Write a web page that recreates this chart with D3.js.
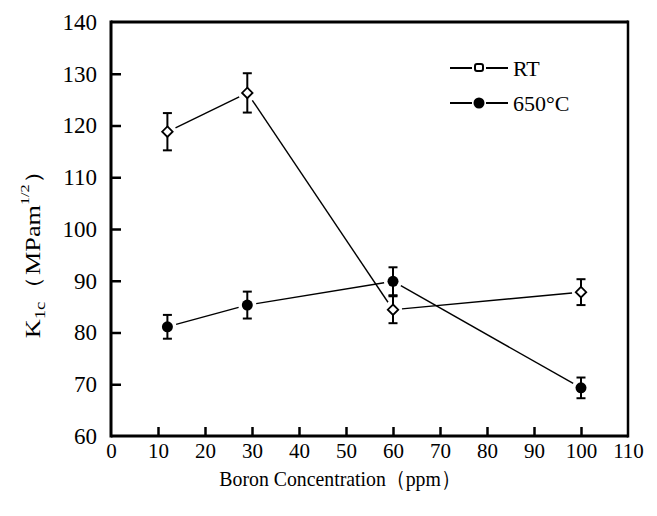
<!DOCTYPE html>
<html>
<head>
<meta charset="utf-8">
<script src="https://cdn.jsdelivr.net/npm/d3@7"></script>
<style>
  html, body { margin: 0; padding: 0; background: #fff; }
  svg { display: block; }
  svg text { font-family: "Times New Roman", "Liberation Serif", Times, "DejaVu Serif", serif; fill: #000; }
</style>
</head>
<body>
<div id="chart"></div>
<script>
// ── Data ─────────────────────────────────────────────
var boron = [12, 29, 60, 100];                 // ppm
var rtK = [118.8, 126.3, 84.4, 87.8];          // RT
var rtErr = [3.6, 3.8, 2.6, 2.5];
var hotK = [81.1, 85.3, 89.9, 69.3];           // 650°C
var hotErr = [2.3, 2.6, 2.7, 2.0];
var xTicks = [0, 10, 20, 30, 40, 50, 60, 70, 80, 90, 100, 110];
var yTicks = [60, 70, 80, 90, 100, 110, 120, 130, 140];
var seriesNames = ["RT", "650°C"];

var W = 657, H = 516;
var margin = { top: 22, right: 29, bottom: 80, left: 111 };
var iW = W - margin.left - margin.right;
var iH = H - margin.top - margin.bottom;
var serif = "'Times New Roman', 'Liberation Serif', Times, serif";

var svg = d3.select("#chart").append("svg")
  .attr("width", W).attr("height", H)
  .attr("font-family", serif);
svg.append("rect").attr("width", W).attr("height", H).attr("fill", "#fff");

var g = svg.append("g")
  .attr("transform", "translate(" + margin.left + "," + margin.top + ")");

var x = d3.scaleLinear().domain([0, 110]).range([0, iW]);
var y = d3.scaleLinear().domain([60, 140]).range([iH, 0]);

// ── Axes (ticks pointing inward) ─────────────────────
var xAxis = g.append("g")
  .attr("transform", "translate(0," + iH + ")")
  .call(d3.axisBottom(x).tickValues(xTicks).tickSize(-9).tickPadding(7))
  .attr("font-family", serif);
xAxis.selectAll("text").attr("font-size", 21);

var yAxis = g.append("g")
  .call(d3.axisLeft(y).tickValues(yTicks).tickSize(-10).tickPadding(14))
  .attr("font-family", serif);
yAxis.selectAll("text").attr("font-size", 23);

[xAxis, yAxis].forEach(function (a) {
  a.select(".domain").remove();
  a.selectAll(".tick line").attr("stroke", "#000").attr("stroke-width", 2.5);
});
// no tick marks at the frame corners
xAxis.selectAll(".tick line").filter(function (d) { return d === 0 || d === 110; }).remove();
yAxis.selectAll(".tick line").filter(function (d) { return d === 60 || d === 140; }).remove();

// frame
g.append("line").attr("x1", 0).attr("x2", 0).attr("y1", -1.5).attr("y2", iH + 1.5)
  .attr("stroke", "#000").attr("stroke-width", 3);
g.append("line").attr("x1", 0).attr("x2", iW).attr("y1", iH).attr("y2", iH)
  .attr("stroke", "#000").attr("stroke-width", 3);
g.append("line").attr("x1", 0).attr("x2", iW).attr("y1", 0).attr("y2", 0)
  .attr("stroke", "#000").attr("stroke-width", 3);
g.append("line").attr("x1", iW).attr("x2", iW).attr("y1", -1.5).attr("y2", iH + 1.5)
  .attr("stroke", "#000").attr("stroke-width", 2.5);

// ── Axis titles ──────────────────────────────────────
svg.append("text")
  .attr("transform", "translate(340,486) scale(0.9,1)")
  .attr("text-anchor", "middle")
  .attr("font-size", 22)
  .text("Boron Concentration（ppm）");

var yt = svg.append("text")
  .attr("transform", "translate(40,248) rotate(-90) scale(1.25,1)")
  .attr("text-anchor", "middle")
  .attr("font-size", 21);
yt.append("tspan").text("K");
yt.append("tspan").attr("dy", 5).attr("font-size", 15).text("1c");
yt.append("tspan").attr("dy", -5).text("（MPam");
yt.append("tspan").attr("dy", -11).attr("font-size", 13).text("1/2");
yt.append("tspan").attr("dy", 11).text("）");

// ── Series ───────────────────────────────────────────
function rows(vals, errs) {
  return boron.map(function (b, i) { return { b: b, v: vals[i], e: errs[i] }; });
}
var series = [
  { name: seriesNames[0], rows: rows(rtK, rtErr), open: true },
  { name: seriesNames[1], rows: rows(hotK, hotErr), open: false }
];

var gap = 9;
series.forEach(function (s) {
  var sg = g.append("g");
  // connecting segments, with small gaps at the markers
  d3.pairs(s.rows).forEach(function (p) {
    var x1 = x(p[0].b), y1 = y(p[0].v), x2 = x(p[1].b), y2 = y(p[1].v);
    var len = Math.hypot(x2 - x1, y2 - y1);
    var ux = (x2 - x1) / len, uy = (y2 - y1) / len;
    sg.append("line")
      .attr("x1", x1 + ux * gap).attr("y1", y1 + uy * gap)
      .attr("x2", x2 - ux * gap).attr("y2", y2 - uy * gap)
      .attr("stroke", "#000").attr("stroke-width", 1.4);
  });
  // error bars
  var eb = sg.selectAll(".eb").data(s.rows).join("g").attr("class", "eb");
  eb.append("line")
    .attr("x1", function (d) { return x(d.b); }).attr("x2", function (d) { return x(d.b); })
    .attr("y1", function (d) { return y(d.v - d.e); }).attr("y2", function (d) { return y(d.v + d.e); })
    .attr("stroke", "#000").attr("stroke-width", 2);
  [-1, 1].forEach(function (sgn) {
    eb.append("line")
      .attr("x1", function (d) { return x(d.b) - 4.5; }).attr("x2", function (d) { return x(d.b) + 4.5; })
      .attr("y1", function (d) { return y(d.v + sgn * d.e); }).attr("y2", function (d) { return y(d.v + sgn * d.e); })
      .attr("stroke", "#000").attr("stroke-width", 2);
  });
  // markers
  if (s.open) {
    sg.selectAll(".mk").data(s.rows).join("path").attr("class", "mk")
      .attr("d", d3.symbol(d3.symbolDiamond2, 70)())
      .attr("transform", function (d) { return "translate(" + x(d.b) + "," + y(d.v) + ")"; })
      .attr("fill", "#fff").attr("stroke", "#000").attr("stroke-width", 1.8);
  } else {
    sg.selectAll(".mk").data(s.rows).join("circle").attr("class", "mk")
      .attr("cx", function (d) { return x(d.b); }).attr("cy", function (d) { return y(d.v); })
      .attr("r", 5.5).attr("fill", "#000");
  }
});

// ── Legend ───────────────────────────────────────────
var lg = svg.append("g");
seriesNames.forEach(function (name, i) {
  var ly = 68 + i * 35;
  lg.append("line").attr("x1", 450).attr("x2", 472).attr("y1", ly).attr("y2", ly)
    .attr("stroke", "#000").attr("stroke-width", 2);
  lg.append("line").attr("x1", 486).attr("x2", 508).attr("y1", ly).attr("y2", ly)
    .attr("stroke", "#000").attr("stroke-width", 2);
  if (i === 0) {
    lg.append("rect").attr("x", 475).attr("y", ly - 4).attr("width", 8).attr("height", 7)
      .attr("rx", 2).attr("fill", "#fff").attr("stroke", "#000").attr("stroke-width", 2);
  } else {
    lg.append("circle").attr("cx", 479).attr("cy", ly).attr("r", 5.5).attr("fill", "#000");
  }
  lg.append("text").attr("x", 513).attr("y", ly + 7.5).attr("font-size", 22).text(name);
});
</script>
</body>
</html>
